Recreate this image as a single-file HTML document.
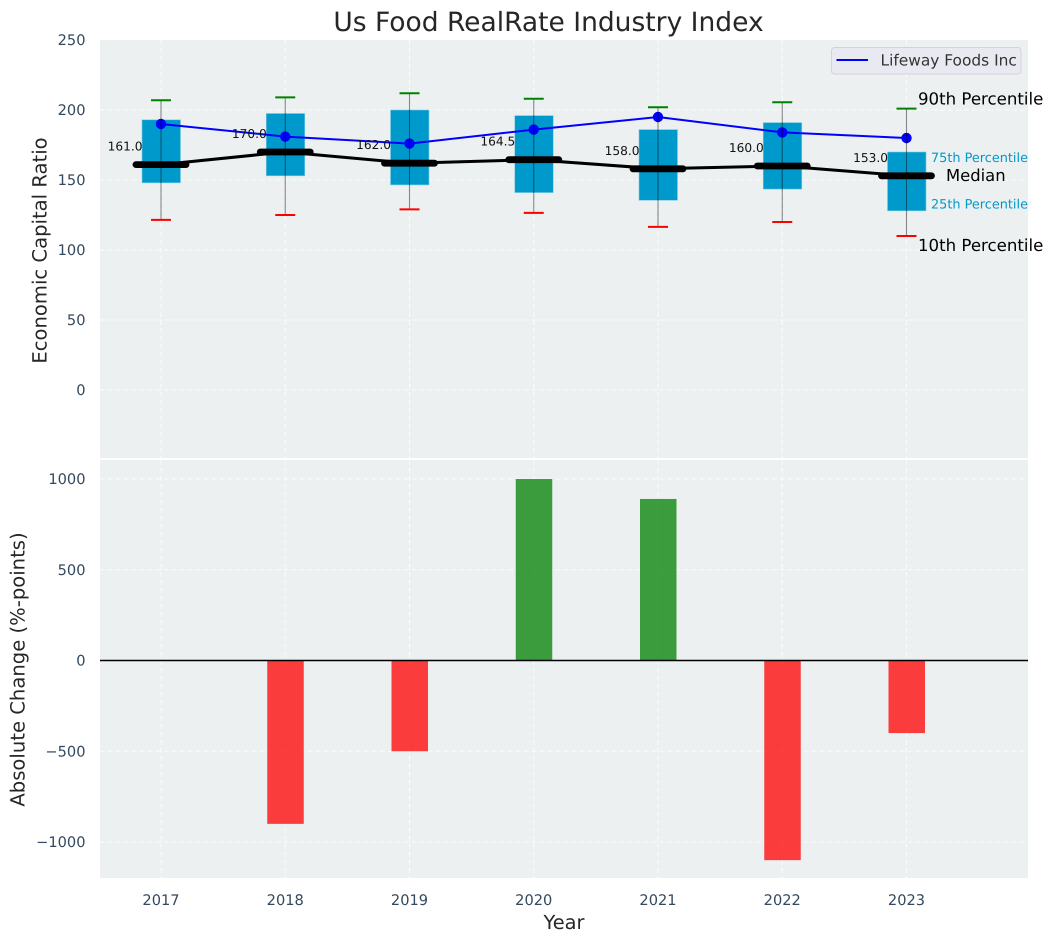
<!DOCTYPE html>
<html>
<head>
<meta charset="utf-8">
<title>Us Food RealRate Industry Index</title>
<style>
html,body{margin:0;padding:0;background:#fff;}
svg{display:block;font-family:"DejaVu Sans","Liberation Sans",sans-serif;text-rendering:geometricPrecision;}
</style>
</head>
<body>
<svg id="chart" xmlns="http://www.w3.org/2000/svg" width="1053" height="942" viewBox="0 0 1053 942">
  <rect x="100" y="40" width="928" height="418" fill="#ecf0f1"/>
  <rect x="100" y="460" width="928" height="418" fill="#ecf0f1"/>
  <g id="grid"></g>
  <g id="marks"></g>
  <g id="axes"></g>
  <text x="548.5" y="31" text-anchor="middle" font-size="26.5" fill="#262626">Us Food RealRate Industry Index</text>
  <text transform="translate(46.5,250.5) rotate(-90)" text-anchor="middle" font-size="19.6" fill="#262626">Economic Capital Ratio</text>
  <text transform="translate(24.5,669.5) rotate(-90)" text-anchor="middle" font-size="19.6" fill="#262626">Absolute Change (%-points)</text>
  <text x="564" y="929" text-anchor="middle" font-size="19.4" fill="#262626">Year</text>
  <g>
    <rect x="831.5" y="47.5" width="189.5" height="26.5" rx="3" fill="#e9e9f1" stroke="#d2d3d8" stroke-width="1"/>
    <line x1="836.5" y1="60" x2="868" y2="60" stroke="#0000ff" stroke-width="2"/>
    <text x="880.5" y="65.5" font-size="15.4" fill="#333333">Lifeway Foods Inc</text>
  </g>
</svg>
<script>
var years = [2017, 2018, 2019, 2020, 2021, 2022, 2023];
var p90 = [207, 209, 212, 208, 202, 205.5, 201];
var p75 = [193, 197.5, 200, 196, 186, 191, 170];
var medianValues = [161, 170, 162, 164.5, 158, 160, 153];
var p25 = [148, 153, 146.5, 141, 135.5, 143.5, 128];
var p10 = [121.5, 125, 129, 126.5, 116.5, 120, 110];
var companyValues = [190, 181, 176, 186, 195, 184, 180];
var changeValues = [0, -900, -500, 1000, 890, -1100, -400];
var topTicks = [0, 50, 100, 150, 200, 250];
var bottomTicks = [-1000, -500, 0, 500, 1000];

function xScale(v) { return 161 + (v - 2017) * 124.25; }
function yTop(v) { return 390 - v * 1.4; }
function yBottom(v) { return 660.5 - v * 0.1815; }

var NS = 'http://www.w3.org/2000/svg';
function mk(parent, tag, name, attrs, text) {
  var el = document.createElementNS(NS, tag);
  
  
  for (var k in attrs) { el.setAttribute(k, attrs[k]); }
  if (text !== undefined) { el.textContent = text; }
  parent.appendChild(el);
  return el;
}
var grid = document.getElementById('grid');
var marks = document.getElementById('marks');
var axes = document.getElementById('axes');
var tickColor = '#34495e';
var dash = { stroke: '#ffffff', 'stroke-width': 1, 'stroke-dasharray': '5 3', 'stroke-opacity': 0.75 };
function gridLine(name, x1, y1, x2, y2) {
  mk(grid, 'line', name, Object.assign({ x1: x1, y1: y1, x2: x2, y2: y2 }, dash));
}

years.forEach(function (yr) {
  var x = xScale(yr);
  gridLine('top-grid-x-' + yr, x, 40, x, 458);
  gridLine('bottom-grid-x-' + yr, x, 460, x, 878);
  mk(axes, 'text', 'x-tick-' + yr, { x: x, y: 905, 'text-anchor': 'middle', 'font-size': 14.6, fill: tickColor }, String(yr));
});
topTicks.forEach(function (t) {
  var y = yTop(t);
  if (t < 250) { gridLine('top-grid-y-' + t, 100, y, 1028, y); }
  mk(axes, 'text', 'top-y-tick-' + t, { x: 85.5, y: y + 5, 'text-anchor': 'end', 'font-size': 14.6, fill: tickColor }, String(t));
});
bottomTicks.forEach(function (t) {
  var y = yBottom(t);
  gridLine('bottom-grid-y-' + t, 100, y, 1028, y);
  mk(axes, 'text', 'bottom-y-tick-' + t, { x: 85.5, y: y + 5, 'text-anchor': 'end', 'font-size': 14.6, fill: tickColor }, String(t).replace('-', '\u2212'));
});

/* Bottom panel bars */
changeValues.forEach(function (v, i) {
  if (v === 0) { return; }
  var x = xScale(years[i]);
  var y0 = yBottom(0), y1 = yBottom(v);
  mk(marks, 'rect', 'change-bar-' + years[i], {
    x: x - 18, y: Math.min(y0, y1), width: 36.5, height: Math.abs(y1 - y0),
    fill: v > 0 ? '#008000' : '#ff0000', 'fill-opacity': 0.75
  });
});
mk(marks, 'line', 'zero-line', { x1: 100, y1: yBottom(0), x2: 1028, y2: yBottom(0), stroke: '#000000', 'stroke-width': 1.5 });

/* Top panel boxes */
years.forEach(function (yr, i) {
  var x = xScale(yr);
  mk(marks, 'rect', 'box-' + yr, {
    x: x - 19, y: yTop(p75[i]), width: 38.5, height: yTop(p25[i]) - yTop(p75[i]),
    fill: '#0099cc', stroke: '#7fcbe3', 'stroke-width': 0.6
  });
});

function polyPoints(values) {
  return values.map(function (v, i) { return xScale(years[i]) + ',' + yTop(v); }).join(' ');
}
mk(marks, 'polyline', 'median-line', { points: polyPoints(medianValues), fill: 'none', stroke: '#000000', 'stroke-width': 3 });
years.forEach(function (yr, i) {
  var x = xScale(yr), y = yTop(medianValues[i]);
  mk(marks, 'line', 'median-marker-' + yr, { x1: x - 25, y1: y, x2: x + 25, y2: y, stroke: '#000000', 'stroke-width': 6.8, 'stroke-linecap': 'round' });
});
mk(marks, 'polyline', 'company-line', { points: polyPoints(companyValues), fill: 'none', stroke: '#0000ff', 'stroke-width': 2 });
years.forEach(function (yr, i) {
  mk(marks, 'circle', 'company-point-' + yr, { cx: xScale(yr), cy: yTop(companyValues[i]), r: 5.2, fill: '#0000ff' });
});
years.forEach(function (yr, i) {
  var x = xScale(yr);
  mk(marks, 'line', 'whisker-' + yr, { x1: x, y1: yTop(p90[i]), x2: x, y2: yTop(p10[i]), stroke: '#000000', 'stroke-opacity': 0.45, 'stroke-width': 1.1 });
  mk(marks, 'line', 'cap-90th-' + yr, { x1: x - 10, y1: yTop(p90[i]), x2: x + 10, y2: yTop(p90[i]), stroke: '#008000', 'stroke-width': 2 });
  mk(marks, 'line', 'cap-10th-' + yr, { x1: x - 10, y1: yTop(p10[i]), x2: x + 10, y2: yTop(p10[i]), stroke: '#ff0000', 'stroke-width': 2 });
  mk(marks, 'text', 'median-value-' + yr, { x: x - 18.5, y: yTop(medianValues[i]) - 14, 'text-anchor': 'end', 'font-size': 12.2, fill: '#111111' }, medianValues[i].toFixed(1));
});

/* Percentile annotations beside the final year */
var last = years.length - 1;
var lx = xScale(years[last]);
mk(marks, 'text', 'label-90th-percentile', { x: lx + 11.5, y: yTop(p90[last]) - 4, 'font-size': 16.6, fill: '#000000' }, '90th Percentile');
mk(marks, 'text', 'label-10th-percentile', { x: lx + 11.5, y: yTop(p10[last]) + 15, 'font-size': 16.6, fill: '#000000' }, '10th Percentile');
mk(marks, 'text', 'label-median', { x: lx + 39.5, y: yTop(medianValues[last]) + 5, 'font-size': 16.4, fill: '#000000' }, 'Median');
mk(marks, 'text', 'label-75th-percentile', { x: lx + 24.5, y: yTop(p75[last]) + 10, 'font-size': 12.85, fill: '#0099cc' }, '75th Percentile');
mk(marks, 'text', 'label-25th-percentile', { x: lx + 24.5, y: yTop(p25[last]) - 2.5, 'font-size': 12.85, fill: '#0099cc' }, '25th Percentile');
</script>
</body>
</html>
